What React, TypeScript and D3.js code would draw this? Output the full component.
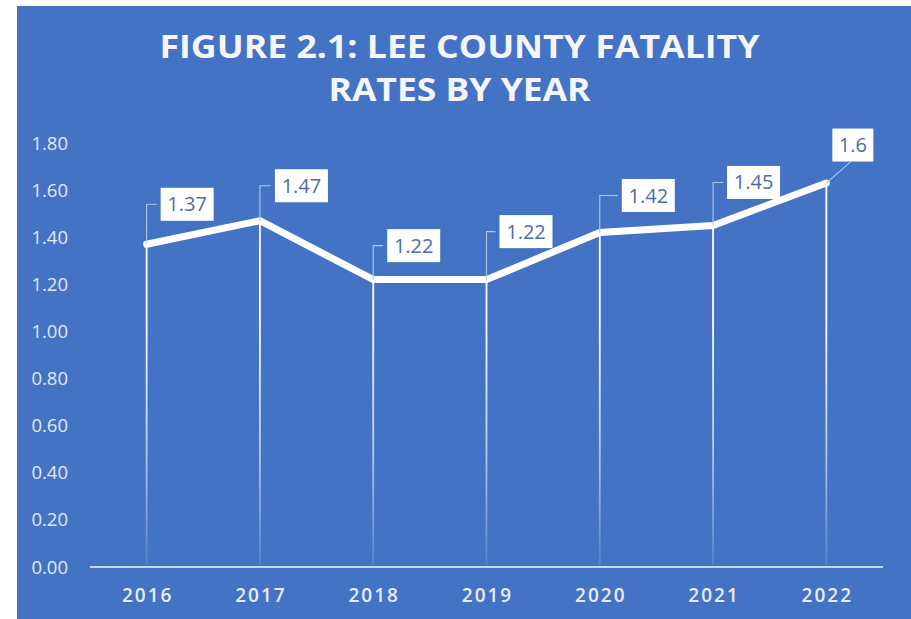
import React from "react";
import * as d3 from "d3";

const years = ["2016", "2017", "2018", "2019", "2020", "2021", "2022"];
const rates = [1.37, 1.47, 1.22, 1.22, 1.42, 1.45, 1.63];
const rateLabels = ["1.37", "1.47", "1.22", "1.22", "1.42", "1.45", "1.6"];
const yTicks = [0, 0.2, 0.4, 0.6, 0.8, 1.0, 1.2, 1.4, 1.6, 1.8];
const titleLines = ["FIGURE 2.1: LEE COUNTY FATALITY", "RATES BY YEAR"];

// layout: label box offsets (left edge dx, center dy) relative to point
const labelOffsets: [number, number][] = [
  [14, -40],
  [15, -35],
  [14, -34],
  [13, -48],
  [22, -37],
  [14, -43],
  [6, -38],
];

const W = 911;
const H = 619;
const BG = "#4472C4";

export default function App() {
  const x = d3.scaleBand<string>().domain(years).range([90, 883]).padding(0);
  const y = d3.scaleLinear().domain([0, 1.8]).range([567, 143]);
  const cx = (d: string) => (x(d) as number) + x.bandwidth() / 2;
  const line = d3
    .line<number>()
    .x((_, i) => cx(years[i]))
    .y((v) => y(v));

  return (
    <svg
      width={W}
      height={H}
      style={{ position: "absolute", left: 0, top: 0 }}
      fontFamily="'Open Sans', sans-serif"
    >
      <defs>
        <linearGradient id="drop" gradientUnits="userSpaceOnUse" x1="0" y1="320" x2="0" y2="567">
          <stop offset="0" stopColor="#ffffff" stopOpacity={1} />
          <stop offset="0.55" stopColor="#ffffff" stopOpacity={0.6} />
          <stop offset="1" stopColor="#ffffff" stopOpacity={0.1} />
        </linearGradient>
      </defs>
      <rect x={0} y={0} width={W} height={H} fill="#ffffff" />
      <rect x={17} y={6} width={W - 17} height={H - 6} fill={BG} />

      {titleLines.map((t, i) => (
        <text
          key={t}
          x={W / 2 + 4}
          y={58 + i * 43}
          textAnchor="middle"
          fill="#F4F6FB"
          fontWeight={700}
          fontSize={32}
          textLength={i === 0 ? 600 : 262}
          lengthAdjust="spacingAndGlyphs"
        >
          {t}
        </text>
      ))}

      {yTicks.map((t) => (
        <text
          key={t}
          x={68}
          y={y(t) + 6.5}
          textAnchor="end"
          fill="#E3E9F5"
          fontSize={18.5}
        >
          {t.toFixed(2)}
        </text>
      ))}

      {years.map((yr, i) => (
        <line
          key={"drop" + yr}
          x1={cx(yr)}
          x2={cx(yr)}
          y1={y(rates[i])}
          y2={565}
          stroke="url(#drop)"
          strokeWidth={1.8}
        />
      ))}

      <line x1={90} x2={883} y1={567} y2={567} stroke="#C9D6EE" strokeWidth={2.2} />

      {years.map((yr) => (
        <text
          key={"xl" + yr}
          x={cx(yr) + 1}
          y={602}
          textAnchor="middle"
          fill="#E8EDF7"
          fontSize={19}
          fontWeight={600}
          letterSpacing={2}
        >
          {yr}
        </text>
      ))}

      <path
        d={line(rates) || ""}
        fill="none"
        stroke="#ffffff"
        strokeWidth={7}
        strokeLinejoin="miter"
        strokeLinecap="round"
      />

      {years.map((yr, i) => {
        const px = cx(yr);
        const py = y(rates[i]);
        const [dx, dy] = labelOffsets[i];
        const label = rateLabels[i];
        const tw = label.length === 3 ? 28 : 40;
        const bw = tw + 13;
        const bh = 33;
        const bx = px + dx;
        const bcy = py + dy;
        const last = i === years.length - 1;
        const leader = last
          ? `M${px},${py} L${bx + bw * 0.45},${bcy + bh / 2}`
          : `M${px},${py} L${px},${bcy} L${bx - 4},${bcy}`;
        return (
          <g key={"lab" + yr}>
            <path d={leader} fill="none" stroke="#B4C7E7" strokeWidth={1.1} />
            <rect x={bx} y={bcy - bh / 2} width={bw} height={bh} fill="#ffffff" />
            <text
              x={bx + bw / 2}
              y={bcy + 7}
              textAnchor="middle"
              fill="#4D6DAA"
              fontSize={20}
            >
              {label}
            </text>
          </g>
        );
      })}
    </svg>
  );
}
